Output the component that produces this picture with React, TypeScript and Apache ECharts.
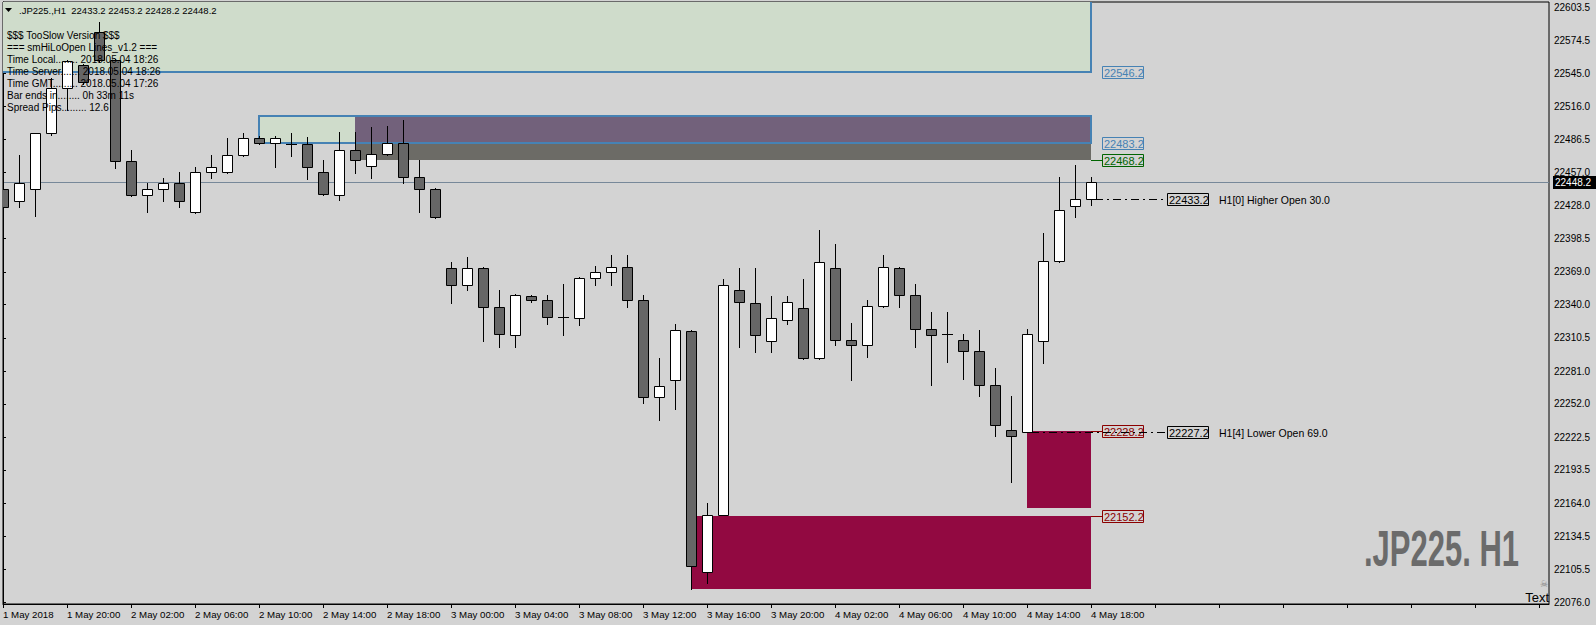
import React, { useEffect, useRef } from "react";
import * as echarts from "echarts";

// ---------- data ----------
const xTickLabels = [
  "1 May 2018", "1 May 20:00", "2 May 02:00", "2 May 06:00", "2 May 10:00", "2 May 14:00",
  "2 May 18:00", "3 May 00:00", "3 May 04:00", "3 May 08:00", "3 May 12:00", "3 May 16:00",
  "3 May 20:00", "4 May 02:00", "4 May 06:00", "4 May 10:00", "4 May 14:00", "4 May 18:00",
];
const yTickLabels = [
  "22076.0", "22105.5", "22134.5", "22164.0", "22193.5", "22222.5", "22252.0", "22281.0",
  "22310.5", "22340.0", "22369.0", "22398.5", "22428.0", "22457.0", "22486.5", "22516.0",
  "22545.0", "22574.5", "22603.5",
];

const opens = [
  22442.3, 22432.2, 22442.3, 22491.9, 22531.8, 22552.4, 22581.9, 22556.8, 22466.8, 22437.3,
  22442.3, 22447.6, 22421.6, 22457.4, 22457.4, 22472.7, 22488.0, 22483.1, 22482.4, 22482.4,
  22457.4, 22436.7, 22476.9, 22463.2, 22473.3, 22483.1, 22453.0, 22442.3, 22372.4, 22357.3,
  22372.4, 22337.8, 22313.0, 22347.6, 22344.0, 22329.0, 22328.1, 22363.5, 22368.8, 22373.3,
  22344.0, 22258.1, 22273.2, 22316.6, 22103.2, 22153.7, 22352.9, 22341.4, 22307.7, 22326.3,
  22336.9, 22292.7, 22372.4, 22308.6, 22303.8, 22338.7, 22372.4, 22348.5, 22318.4, 22313.9,
  22308.6, 22298.9, 22268.8, 22228.9, 22227.2, 22307.7, 22378.6, 22427.3, 22433.2,
];
const highs = [
  22457.7, 22472.7, 22491.9, 22540.9, 22557.0, 22553.3, 22590.5, 22558.0, 22477.1, 22447.6,
  22452.1, 22457.4, 22462.3, 22472.7, 22488.0, 22492.5, 22489.0, 22489.0, 22491.9, 22488.4,
  22468.3, 22492.8, 22492.8, 22497.8, 22498.4, 22503.7, 22468.3, 22443.0, 22377.7, 22382.1,
  22373.0, 22353.2, 22349.0, 22348.7, 22348.7, 22358.5, 22364.0, 22373.8, 22384.2, 22384.2,
  22348.7, 22292.9, 22323.0, 22317.0, 22163.7, 22362.6, 22372.4, 22372.4, 22347.9, 22347.9,
  22362.9, 22406.3, 22393.9, 22323.9, 22344.3, 22384.2, 22373.5, 22358.2, 22333.4, 22333.4,
  22313.9, 22317.5, 22283.8, 22259.3, 22318.4, 22403.6, 22453.2, 22463.9, 22453.2,
];
const lows = [
  22419.6, 22426.9, 22418.7, 22490.5, 22512.6, 22535.6, 22555.1, 22461.2, 22436.0, 22421.6,
  22432.2, 22426.9, 22421.0, 22452.1, 22457.0, 22472.0, 22482.0, 22461.5, 22472.1, 22451.7,
  22436.7, 22433.1, 22457.0, 22452.6, 22473.0, 22447.5, 22421.6, 22417.0, 22341.4, 22352.5,
  22307.4, 22302.1, 22302.1, 22341.9, 22322.8, 22312.7, 22322.2, 22357.0, 22357.0, 22337.5,
  22252.8, 22237.4, 22247.2, 22088.1, 22093.4, 22153.0, 22302.4, 22297.6, 22297.6, 22322.5,
  22292.0, 22292.0, 22303.8, 22272.8, 22293.2, 22337.8, 22337.8, 22302.1, 22268.4, 22288.8,
  22273.7, 22258.7, 22223.2, 22182.5, 22227.0, 22287.9, 22378.0, 22417.2, 22428.2,
];
const closes = [
  22426.9, 22447.6, 22491.9, 22531.8, 22556.2, 22537.1, 22556.8, 22466.8, 22437.3, 22442.3,
  22447.6, 22432.2, 22457.4, 22462.3, 22472.7, 22488.0, 22483.1, 22488.0, 22482.4, 22461.8,
  22437.9, 22476.9, 22467.7, 22473.3, 22483.1, 22452.8, 22442.3, 22417.5, 22357.3, 22372.4,
  22337.8, 22313.9, 22348.5, 22344.0, 22329.0, 22329.0, 22363.5, 22368.8, 22373.3, 22344.0,
  22258.1, 22267.9, 22317.5, 22108.5, 22153.7, 22357.3, 22342.3, 22313.0, 22328.1, 22342.3,
  22292.7, 22377.7, 22308.6, 22303.8, 22338.7, 22373.3, 22348.5, 22318.4, 22313.0, 22313.9,
  22298.9, 22268.8, 22233.4, 22223.6, 22313.9, 22378.6, 22423.7, 22433.2, 22448.2,
];

const currentPrice = 22448.2;

// zones: bar range and price range
const zoneStartBar = [-2, 16, 22, 22, 43, 64];
const zoneEndBar = [68, 22, 68, 68, 68, 68];
const zoneLow = [22546.2, 22483.2, 22483.2, 22468.2, 22088.1, 22160.0];
const zoneHigh = [22680.0, 22507.5, 22507.5, 22483.2, 22152.2, 22228.2];
const zoneKinds = ["green", "green", "purple", "grey", "crimson", "crimson"];

// blue outlined rectangles
const boxStartBar = [-2, 16];
const boxEndBar = [68, 68];
const boxLow = [22546.2, 22483.2];
const boxHigh = [22680.0, 22507.5];

// level tags on the right of the last bar
const levelPrices = [22546.2, 22483.2, 22468.2, 22228.2, 22152.2];
const levelKinds = ["blue", "blue", "green", "red", "red"];
const anchorBar = 68;

// open lines
const openBars = [68, 64];
const openPrices = [22433.2, 22227.2];
const openTexts = ["H1[0] Higher Open 30.0", "H1[4] Lower Open 69.0"];

const headerText = ".JP225.,H1  22433.2 22453.2 22428.2 22448.2";
const commentLines = [
  "$$$ TooSlow Version $$$",
  "=== smHiLoOpen Lines_v1.2 ===",
  "Time Local........ 2018.05.04 18:26",
  "Time Server....... 2018.05.04 18:26",
  "Time GMT......... 2018.05.04 17:26",
  "Bar ends in........ 0h 33m 11s",
  "Spread Pips......... 12.6",
];
const watermark = ".JP225. H1";

// ---------- styles ----------
const W = 1596;
const H = 625;
const BG = "#D3D3D3";
const FONT = '"Liberation Sans", Arial, sans-serif';
const GRID = { left: 3, top: 2, right: 47, bottom: 21 };
const BAR_PX = 16;
const X_MAX = (W - GRID.left - GRID.right) / BAR_PX;
const PX_PER_POINT = 1.128;
const Y_MAX = 22608.2;
const Y_MIN = Y_MAX - (H - GRID.top - GRID.bottom) / PX_PER_POINT;

const zoneColors: Record<string, string> = {
  green: "#CFDCCB",
  purple: "#72617B",
  grey: "#6C6B66",
  crimson: "#920941",
};
const levelColors: Record<string, string> = {
  blue: "#4682B4",
  green: "#006400",
  red: "#8B0000",
};

export default function App() {
  const ref = useRef<HTMLDivElement>(null);

  useEffect(() => {
    if (!ref.current) return;
    const chart = echarts.init(ref.current, undefined, { renderer: "svg" });

    const candleData = opens.map((o, i) => [i, o, closes[i], lows[i], highs[i]]);
    const zoneData = zoneKinds.map((k, i) => [zoneStartBar[i], zoneEndBar[i], zoneLow[i], zoneHigh[i], i]);
    const boxData = boxStartBar.map((s, i) => [s, boxEndBar[i], boxLow[i], boxHigh[i]]);
    const levelData = levelPrices.map((p, i) => [anchorBar, p, i]);
    const openData = openPrices.map((p, i) => [openBars[i], p, i]);
    const yTickValues = yTickLabels.map(Number);

    const option: any = {
      animation: false,
      backgroundColor: BG,
      grid: { ...GRID, show: true, borderColor: "#000", borderWidth: 1, backgroundColor: "transparent" },
      xAxis: {
        type: "value",
        min: 0,
        max: X_MAX,
        interval: 4,
        axisLine: { show: true, onZero: false, lineStyle: { color: "#000", width: 1 } },
        axisTick: { show: true, length: 4, lineStyle: { color: "#000" } },
        splitLine: { show: false },
        axisLabel: {
          color: "#000",
          fontSize: 9.7,
          fontFamily: FONT,
          align: "left",
          margin: 5,
          showMaxLabel: false,
          formatter: (v: number) => xTickLabels[Math.round(v / 4)] ?? "",
        },
      },
      yAxis: {
        type: "value",
        position: "right",
        min: Y_MIN,
        max: Y_MAX,
        axisLine: { show: true, lineStyle: { color: "#000", width: 1 } },
        axisTick: { show: true, length: 3, lineStyle: { color: "#000" }, customValues: yTickValues },
        splitLine: { show: false },
        axisLabel: {
          color: "#000",
          fontSize: 10,
          fontFamily: FONT,
          margin: 5,
          customValues: yTickValues,
          formatter: (v: number) => v.toFixed(1),
        },
      },
      series: [
        {
          type: "custom",
          name: "zones",
          z: 1,
          clip: true,
          data: zoneData,
          renderItem: (params: any, api: any) => {
            const kind = zoneKinds[api.value(4)];
            const p0 = api.coord([api.value(0), api.value(3)]);
            const p1 = api.coord([api.value(1), api.value(2)]);
            const x0 = Math.round(p0[0]);
            const y0 = Math.round(p0[1]);
            return {
              type: "rect",
              shape: { x: x0, y: y0, width: Math.round(p1[0]) - x0, height: Math.round(p1[1]) - y0 },
              style: { fill: zoneColors[kind] },
            };
          },
        },
        {
          type: "custom",
          name: "priceLine",
          z: 2,
          clip: true,
          data: [[0, currentPrice]],
          renderItem: (params: any, api: any) => {
            const y = Math.round(api.coord([0, api.value(1)])[1]) + 0.5;
            const cs = params.coordSys;
            return {
              type: "line",
              shape: { x1: cs.x, y1: y, x2: cs.x + cs.width, y2: y },
              style: { stroke: "#778899", lineWidth: 1 },
            };
          },
        },
        {
          type: "custom",
          name: "boxes",
          z: 3,
          clip: true,
          data: boxData,
          renderItem: (params: any, api: any) => {
            const p0 = api.coord([api.value(0), api.value(3)]);
            const p1 = api.coord([api.value(1), api.value(2)]);
            const x0 = Math.round(p0[0]);
            const y0 = Math.round(p0[1]);
            return {
              type: "rect",
              shape: { x: x0, y: y0, width: Math.round(p1[0]) - x0, height: Math.round(p1[1]) - y0 },
              style: { fill: "none", stroke: "#4682B4", lineWidth: 2 },
            };
          },
        },
        {
          type: "custom",
          name: "candles",
          z: 5,
          clip: true,
          data: candleData,
          renderItem: (params: any, api: any) => {
            const i = api.value(0);
            const o = api.value(1);
            const c = api.value(2);
            const pO = api.coord([i, o]);
            const pC = api.coord([i, c]);
            const pL = api.coord([i, api.value(3)]);
            const pH = api.coord([i, api.value(4)]);
            const x = Math.round(pO[0]);
            const top = Math.round(Math.min(pO[1], pC[1]));
            const bot = Math.round(Math.max(pO[1], pC[1]));
            const children: any[] = [
              {
                type: "line",
                shape: { x1: x + 0.5, y1: Math.round(pH[1]), x2: x + 0.5, y2: Math.round(pL[1]) + 1 },
                style: { stroke: "#000", lineWidth: 1 },
              },
            ];
            if (bot - top < 1) {
              children.push({
                type: "line",
                shape: { x1: x - 5, y1: top + 0.5, x2: x + 6, y2: top + 0.5 },
                style: { stroke: "#000", lineWidth: 1 },
              });
            } else {
              children.push({
                type: "rect",
                shape: { x: x - 4.5, y: top + 0.5, width: 10, height: bot - top },
                style: { fill: c >= o ? "#FFFFFF" : "#666666", stroke: "#000", lineWidth: 1 },
              });
            }
            return { type: "group", children };
          },
        },
        {
          type: "custom",
          name: "levels",
          z: 6,
          clip: false,
          data: levelData,
          renderItem: (params: any, api: any) => {
            const kind = levelKinds[api.value(2)];
            const col = levelColors[kind];
            const p = api.coord([api.value(0), api.value(1)]);
            const x = Math.round(p[0]);
            const y = Math.round(p[1]);
            const children: any[] = [];
            if (kind !== "blue") {
              children.push({
                type: "line",
                shape: { x1: x, y1: y + 0.5, x2: x + 11, y2: y + 0.5 },
                style: { stroke: col, lineWidth: 1 },
              });
            }
            children.push({
              type: "rect",
              shape: { x: x + 11.5, y: y - 5.5, width: 41, height: 12 },
              style: { fill: "none", stroke: col, lineWidth: 1 },
            });
            children.push({
              type: "text",
              style: {
                text: levelPrices[api.value(2)].toFixed(1),
                x: x + 13,
                y: y + 1,
                fill: col,
                fontSize: 11,
                fontFamily: FONT,
                align: "left",
                verticalAlign: "middle",
              },
            });
            return { type: "group", children };
          },
        },
        {
          type: "custom",
          name: "opens",
          z: 6,
          clip: false,
          data: openData,
          renderItem: (params: any, api: any) => {
            const k = api.value(2);
            const p = api.coord([api.value(0), api.value(1)]);
            const anchor = api.coord([anchorBar, api.value(1)]);
            const x = Math.round(p[0]);
            const y = Math.round(p[1]) + 0.5;
            const bx = Math.round(anchor[0]) + 76;
            return {
              type: "group",
              children: [
                {
                  type: "line",
                  shape: { x1: x + 4, y1: y, x2: bx, y2: y },
                  style: { stroke: "#000", lineWidth: 1, lineDash: [8, 4, 2, 4] },
                },
                {
                  type: "rect",
                  shape: { x: bx + 0.5, y: y - 6, width: 41, height: 12 },
                  style: { fill: "none", stroke: "#000", lineWidth: 1 },
                },
                {
                  type: "text",
                  style: {
                    text: openPrices[k].toFixed(1),
                    x: bx + 2,
                    y: y + 0.5,
                    fill: "#000",
                    fontSize: 11,
                    fontFamily: FONT,
                    align: "left",
                    verticalAlign: "middle",
                  },
                },
                {
                  type: "text",
                  style: {
                    text: openTexts[k],
                    x: bx + 52,
                    y: y + 0.5,
                    fill: "#000",
                    fontSize: 10.5,
                    fontFamily: FONT,
                    align: "left",
                    verticalAlign: "middle",
                  },
                },
              ],
            };
          },
        },
        {
          type: "custom",
          name: "priceTag",
          z: 7,
          clip: false,
          data: [[0, currentPrice]],
          renderItem: (params: any, api: any) => {
            const y = Math.round(api.coord([0, api.value(1)])[1]);
            const cs = params.coordSys;
            const x = cs.x + cs.width + 4;
            return {
              type: "group",
              children: [
                { type: "rect", shape: { x, y: y - 6, width: 44, height: 13 }, style: { fill: "#000" } },
                {
                  type: "text",
                  style: {
                    text: currentPrice.toFixed(1),
                    x: x + 2,
                    y: y + 0.5,
                    fill: "#FFF",
                    fontSize: 10,
                    fontFamily: FONT,
                    align: "left",
                    verticalAlign: "middle",
                  },
                },
              ],
            };
          },
        },
      ],
      graphic: [
        {
          type: "polygon",
          z: 100,
          shape: { points: [[5, 8], [12, 8], [8.5, 12]] },
          style: { fill: "#000" },
        },
        {
          type: "text",
          z: 100,
          x: 19,
          y: 10,
          style: { text: headerText, fill: "#000", fontSize: 9.5, fontFamily: FONT, verticalAlign: "middle" },
        },
        ...commentLines.map((t, i) => ({
          type: "text",
          z: 100,
          x: 7,
          y: 35 + i * 12,
          style: { text: t, fill: "#000", fontSize: 10, fontFamily: FONT, verticalAlign: "middle" },
        })),
        {
          type: "text",
          z: 100,
          x: 1364,
          y: 549,
          scaleX: 0.62,
          style: {
            text: watermark,
            fill: "#6B6B6B",
            fontSize: 50,
            fontWeight: "bold",
            fontFamily: '"Liberation Sans Narrow", "Liberation Sans", Arial, sans-serif',
            verticalAlign: "middle",
          },
        },
        {
          type: "text",
          z: 100,
          x: 1544,
          y: 584,
          style: { text: "☠", fill: "#808080", fontSize: 9, fontFamily: '"DejaVu Sans"', align: "center", verticalAlign: "middle" },
        },
        {
          type: "text",
          z: 100,
          x: 1549,
          y: 597,
          style: { text: "Text", fill: "#000", fontSize: 13, fontFamily: FONT, align: "right", verticalAlign: "middle" },
        },
      ],
    };

    chart.setOption(option);
    return () => chart.dispose();
  }, []);

  return (
    <div
      ref={ref}
      style={{ position: "fixed", left: 0, top: 0, width: W, height: H, background: BG }}
    />
  );
}
